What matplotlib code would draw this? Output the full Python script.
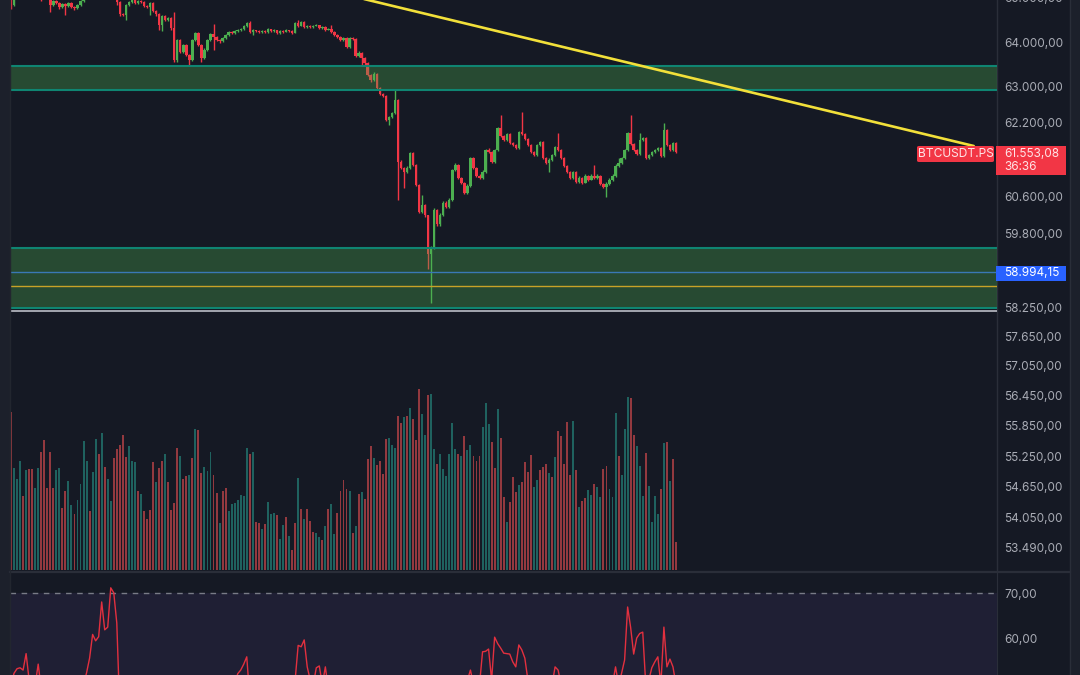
import matplotlib
matplotlib.use("Agg")
import matplotlib.pyplot as plt
from matplotlib.patches import Rectangle, FancyBboxPatch
from matplotlib.lines import Line2D
from matplotlib.ticker import FixedLocator, NullLocator, FuncFormatter

plt.rcParams['font.family'] = ['Inter', 'DejaVu Sans']

# ---------------- data ----------------
first_open = 65095
closes = [
    64864, 65211, 65327, 65443, 65397, 65559, 65489, 65327, 65443, 65211,
    65049, 65164, 65049, 64864, 64956, 64910, 64818, 64887, 64841, 64910,
    64818, 64795, 64864, 64956, 65072, 65164, 65257, 65397, 65327, 65489, 65443,
    65397, 65304, 65211, 65118, 64933, 64657, 64634, 64864,
    64933, 64979, 64910, 64956, 64933, 64841, 64818, 64910, 64726, 64657,
    64404, 64611, 64519, 64565, 64335, 63608, 64061, 63789, 63948, 63721,
    63608, 64061, 64221, 63948, 63654, 63834, 64061, 64198, 64130, 64061,
    64039, 64107, 64175, 64244, 64221, 64267, 64290, 64312, 64381, 64450,
    64244, 64290, 64267, 64244, 64267, 64244, 64312, 64267,
    64290, 64221, 64267, 64244, 64290, 64267, 64221, 64450, 64381, 64473, 64358,
    64381, 64358, 64381, 64404, 64335, 64358, 64290, 64312, 64244, 64175,
    64130, 64061, 64107, 63903, 64107, 64084, 63699, 63767, 63654, 63541,
    63270, 63158, 63293, 62979, 62845, 62800, 62268, 62335, 62423, 62711,
    61349, 61218, 61132, 61218, 61544, 61284, 60850, 60271, 60421, 60186,
    59361, 59509, 60314, 59994, 60207, 60464, 60378, 60528, 61175, 61284,
    61002, 60894, 60678, 60829, 61435, 61218, 61045, 61002, 61132, 61604,
    61566, 61349, 61604, 62092, 61916, 61828, 61960, 61762, 61719, 61653,
    62004, 61960, 61850, 61719, 61566, 61501, 61719, 61784, 61435, 61327,
    61392, 61501, 61675, 61604, 61435, 61262, 61132, 61002, 61132, 60915,
    61002, 60894, 61045, 60958, 61045, 61002,
    61045, 60872, 60807,
    60872, 60958, 61045, 61262, 61327, 61435, 61604, 61982, 61741, 61604,
    61522, 61828, 61872, 61435, 61501, 61566, 61604, 61653, 61479, 62048,
    61719, 61604, 61762, 61553.08,
]
highs = [
    65141, 65250, 65360, 65480, 65470, 65600, 65590, 65510, 65470, 65460,
    65230, 65190, 65190, 65070, 64990, 64980, 64940, 64920, 64910, 64935,
    64930, 64840, 64890, 64980, 65100, 65190, 65290, 65420, 65420, 65520, 65510,
    65460, 65410, 65320, 65230, 65130, 64950, 64680, 64890,
    64960, 65010, 64995, 64985, 64975, 64950, 64860, 64935, 64925, 64740,
    64670, 64640, 64630, 64590, 64580, 64703, 64090, 64080, 63975, 63960,
    63740, 64090, 64250, 64235, 63960, 63870, 64090, 64230, 64427, 64150,
    64080, 64130, 64200, 64265, 64260, 64290, 64310, 64335, 64400, 64475,
    64496, 64310, 64300, 64280, 64290, 64280, 64335, 64320,
    64310, 64300, 64290, 64280, 64310, 64300, 64280, 64475, 64519, 64495, 64485,
    64400, 64395, 64400, 64420, 64415, 64375, 64370, 64330, 64404, 64260,
    64190, 64145, 64130, 64120, 64130, 64125, 64100, 63800, 63780, 63670,
    63560, 63290, 63338, 63310, 62995, 62870, 62820, 62360, 62445, 62934,
    62730, 61380, 61240, 61250, 61570, 61560, 61300, 60870, 60635, 60440,
    60200, 59540, 60340, 60330, 60240, 60490, 60490, 60555, 61200, 61310,
    61300, 61020, 60910, 60860, 61460, 61450, 61240, 61070, 61160, 61630,
    61640, 61590, 61630, 62120, 62379, 61935, 61985, 61975, 61780, 61735,
    62030, 62445, 61980, 61870, 61740, 61590, 61745, 61810, 61800, 61450,
    61420, 61525, 61700, 61982, 61620, 61450, 61280, 61150, 61155, 61150,
    61030, 61020, 61070, 61060, 61070, 61284,
    61070, 61060, 60890,
    60900, 60985, 61070, 61290, 61435, 61460, 61630, 62010, 62379, 61760,
    61625, 61982, 61900, 61890, 61525, 61590, 61625, 61675, 61670, 62202,
    62070, 61740, 61785, 61780,
]
lows = [
    64772, 64840, 65180, 65300, 65350, 65370, 65450, 65290, 65300, 65180,
    64956, 65020, 65010, 64703, 64830, 64880, 64780, 64790, 64634, 64810,
    64790, 64749, 64770, 64840, 64930, 65050, 65140, 65240, 65300, 65310, 65420,
    65370, 65280, 65190, 65090, 64864, 64611, 64600, 64519,
    64840, 64910, 64880, 64890, 64905, 64815, 64790, 64634, 64700, 64620,
    64290, 64267, 64490, 64500, 64300, 63570, 63563, 63760, 63760, 63690,
    63495, 63590, 64030, 63920, 63563, 63630, 63810, 64040, 63834, 64030,
    64000, 64015, 64090, 64150, 64195, 64200, 64245, 64270, 64295, 64360,
    64220, 64175, 64245, 64220, 64230, 64225, 64230, 64245,
    64250, 64200, 64205, 64225, 64235, 64250, 64200, 64210, 64360, 64370, 64340,
    64340, 64340, 64345, 64370, 64315, 64320, 64270, 64280, 64225, 64150,
    64100, 64039, 64040, 63880, 63890, 64060, 63670, 63680, 63495, 63500,
    63240, 63120, 63130, 62950, 62810, 62770, 62240, 62158, 62310, 62400,
    60528, 61180, 60786, 61100, 61200, 61250, 60810, 60230, 60250, 60150,
    59046, 58339, 59480, 59960, 59970, 60180, 60350, 60350, 60500, 61150,
    60970, 60860, 60650, 60650, 60800, 61190, 61020, 60970, 60980, 61100,
    61540, 61320, 61330, 61580, 61890, 61800, 61800, 61740, 61690, 61630,
    61630, 61935, 61825, 61695, 61540, 61475, 61480, 61700, 61410, 61300,
    61132, 61370, 61480, 61580, 61410, 61240, 61100, 60975, 60980, 60890,
    60895, 60870, 60875, 60935, 60940, 60980,
    60980, 60850, 60780,
    60592, 60850, 60935, 61020, 61240, 61300, 61410, 61580, 61715, 61580,
    61500, 61500, 61800, 61410, 61415, 61480, 61545, 61585, 61455, 61460,
    61695, 61580, 61585, 61530,
]
volumes = [
    3166, 2040, 1820, 2180, 1480, 2000, 2020, 2020, 1640, 2040,
    2360, 2600, 1640, 2360, 1640, 2000, 2040, 1240, 1580, 1780,
    1300, 1120, 1400, 1720, 2580, 2180, 1180, 1960, 2620, 2320,
    2740, 2060, 1820, 1380, 2240, 2420, 2500, 2700, 2260, 2480,
    2180, 2160, 1580, 1520, 1180, 1020, 1200, 2160, 1760, 2040,
    2180, 2320, 1760, 1200, 1340, 2440, 2280, 1820, 1880, 1900,
    2240, 2820, 2800, 1940, 2060, 1980, 2360, 1900, 1540, 940,
    1580, 1640, 1180, 1320, 1340, 1400, 1500, 1480, 2440, 2320,
    2360, 960, 940, 820, 920, 1360, 1120, 1140, 1100, 620,
    900, 1060, 680, 400, 940, 1840, 1220, 1020, 1220, 980,
    760, 740, 660, 600, 880, 1220, 1320, 720, 1140, 1580,
    1800, 1620, 1580, 740, 880, 1520,
    1560, 1420, 2220, 2480, 2240, 2100, 2180, 1920, 2620, 2640,
    2500, 2440, 3080, 2940, 3060, 3080, 3240, 3020, 2600, 3620,
    3120, 2700, 3500, 3520, 2420, 2120, 2320, 2020, 1880, 2320,
    2940, 2420, 2320, 2280, 2680, 2400, 2500, 2280, 2180, 2280,
    2860, 3340, 2920, 2560, 2040, 3220, 2640, 1460, 960, 1360,
    1860, 1560, 1700, 1760, 2160, 1960, 2300, 1660, 1800, 2000,
    2060, 2120, 1940, 1860, 2260, 2780, 2680, 2120, 2960, 1900,
    2980, 2000, 1260, 1380, 1440, 1600, 1500, 1720, 1660, 1460,
    2020, 2080, 1620, 1460, 3140, 2280, 1900, 2820, 3460, 3440,
    2700, 2480, 2080, 1480, 2340, 1680, 960, 1480, 1120, 1620,
    2540, 2560, 1780, 2220, 560,
]
# 1 = buy volume (teal), 0 = sell volume (red)
volume_up = [
    0, 1, 1, 1, 0, 1, 0, 0, 1, 1,
    0, 0, 0, 0, 0, 1, 1, 0, 0, 1,
    1, 0, 1, 1, 1, 1, 0, 1, 1, 0,
    1, 0, 1, 1, 0, 0, 0, 0, 0, 1,
    1, 1, 0, 1, 0, 0, 0, 0, 1, 0,
    0, 1, 0, 0, 0, 0, 1, 0, 0, 1,
    0, 1, 0, 0, 1, 1, 1, 0, 0, 1,
    0, 0, 1, 1, 1, 1, 1, 1, 1, 0,
    1, 0, 0, 1, 0, 1, 1, 1, 0, 1,
    1, 0, 1, 0, 0, 1, 0, 1, 0, 0,
    0, 1, 1, 0, 1, 0, 1, 1, 0, 0,
    0, 0, 1, 0, 1, 0,
    1, 0, 0, 0, 1, 0, 0, 0, 0, 1,
    1, 1, 0, 0, 1, 0, 1, 0, 0, 0,
    1, 1, 0, 1, 1, 0, 1, 1, 1, 1,
    1, 1, 0, 1, 0, 1, 1, 0, 0, 0,
    1, 1, 1, 0, 0, 1, 0, 0, 1, 0,
    0, 0, 1, 0, 0, 0, 0, 1, 1, 0,
    0, 0, 1, 0, 1, 0, 0, 0, 0, 0,
    1, 0, 1, 0, 0, 1, 1, 0, 1, 1,
    0, 0, 1, 1, 1, 0, 1, 1, 1, 0,
    0, 1, 1, 1, 0, 1, 1, 1, 1, 0,
    1, 0, 1, 0, 0,
]
rsi_values = [
    50, 52.5, 53.5, 53.7, 53.2, 56.8, 51, 48, 50, 54.5, 49,
    47, 45, 44, 46, 43, 41, 44, 42, 45, 47, 44, 46, 48, 50,
    52.6, 55.8, 61.0, 59.6, 60.5, 68.1, 62.0, 62.6, 71.2, 70.1, 63.5, 44,
    40, 38, 36, 39, 42, 40, 43, 45, 44, 46, 48, 45, 43, 41, 44, 46, 47, 45, 43,
    46, 48, 47, 45, 44, 46, 49, 47, 45, 43, 41, 44, 46, 48, 47, 45, 47, 49, 50,
    52.4, 53.2, 54.5, 56.1, 47,
    45, 43, 46, 48, 47, 45, 44, 46, 47, 45, 46, 48, 47, 49,
    51, 58.6, 58.3, 59.8, 53.9, 51, 50, 53.7, 54.1, 50, 53.9, 49,
    46, 44, 42, 40, 41, 38, 35, 37, 34, 32, 35, 33, 31, 28, 30, 27, 25, 30, 28, 26,
    24, 22, 20, 23, 26, 28, 31, 29, 33, 36, 34, 38, 41, 39, 42, 44, 41, 43, 46, 44,
    47, 45, 48, 46, 49,
    51, 53.2, 50,
    48, 50,
    57.2, 57.3, 57.8, 51, 60.4, 59, 58.0, 56.9, 56.8, 56.7, 55.0, 53.9, 58.7, 57.6, 55.8, 51,
    49, 47, 45, 46, 44, 47, 48, 50,
    53.9, 53.2, 50,
    48, 46, 45, 43, 44, 42, 43, 41, 42, 44, 43, 45, 46, 47, 48, 49, 50,
    53.9, 50, 52.5, 55.4, 67.0, 62.5, 56.7, 60.2, 61.2, 61.5, 50,
    51, 53.7, 55.0, 56.1, 50, 62.6, 53.9, 55.6, 53.9, 50,
]
price_ticks = [64000, 63000, 62200, 60600, 59800, 58250, 57650, 57050,
               56450, 55850, 55250, 54650, 54050, 53490]
rsi_ticks = [70, 60]
zone_upper = (62934, 63461)
zone_lower = (58237, 59500)
last_price = 61553.08
countdown = "36:36"
symbol = "BTCUSDT.PS"
marked_price = 58994.15
gold_level = 58700
grey_level = 58179
trend_start = (100, 65285)
trend_end = (318.5, 61692)

assert len(closes) == len(highs) == len(lows) == len(volumes) == len(volume_up) == len(rsi_values)

# ---------------- style ----------------
W, H = 1080, 675
BG = '#151924'
STRIP = '#1c202b'
BORDER = '#2a2e39'
TXT = '#a9acb5'
GREEN = '#4caf50'
RED = '#f23645'
VOL_UP = '#1f625f'
VOL_DN = '#93393f'
FS = 8.5


def fmt(v):
    s = f"{v:,.2f}"
    return s.replace(',', 'X').replace('.', ',').replace('X', '.')


def fbox(x0, y0, x1, y1):
    return [x0 / W, 1 - y1 / H, (x1 - x0) / W, (y1 - y0) / H]


def fx(px):
    return px / W


def fy(py):
    return 1 - py / H


fig = plt.figure(figsize=(W / 100, H / 100), dpi=100, facecolor=BG)

# side strips
fig.add_artist(Rectangle((0, 0), fx(10), 1, transform=fig.transFigure,
                         facecolor=STRIP, edgecolor='none', zorder=0))
fig.add_artist(Rectangle((fx(1070), 0), fx(10), 1, transform=fig.transFigure,
                         facecolor=STRIP, edgecolor='none', zorder=0))

n = len(closes)
xs = list(range(n))
opens = [first_open] + closes[:-1]
XLIM = (-0.33, 326.2)

# volume axes (behind price)
ax_vol = fig.add_axes(fbox(10, 0, 997, 571), zorder=1)
ax_vol.set_facecolor(BG)
ax_vol.bar(xs, volumes, width=0.64,
           color=[VOL_UP if u else VOL_DN for u in volume_up], linewidth=0)
ax_vol.set_xlim(*XLIM)
ax_vol.set_ylim(-20, 11420)
ax_vol.axis('off')

# price axes
ax = fig.add_axes(fbox(10, 0, 997, 571), zorder=2)
ax.patch.set_alpha(0)
cols = [GREEN if c >= o else RED for o, c in zip(opens, closes)]
ax.vlines(xs, lows, highs, colors=cols, linewidth=1.0, zorder=2)
bottoms = [min(o, c) for o, c in zip(opens, closes)]
heights = [max(abs(c - o), 10) for o, c in zip(opens, closes)]
ax.bar(xs, heights, bottom=bottoms, width=0.8, color=cols, linewidth=0, zorder=2.1)
ax.set_yscale('log')
ax.set_ylim(53039, 64979)
ax.set_xlim(*XLIM)

# zones
for lo, hi in (zone_upper, zone_lower):
    ax.axhspan(lo, hi, color='#4caf50', alpha=0.33, linewidth=0, zorder=3)
    ax.axhline(lo, color='#0f8572', linewidth=1.5, zorder=3.5)
    ax.axhline(hi, color='#0f8572', linewidth=1.5, zorder=3.5)
ax.axhline(marked_price, color='#3a78b5', linewidth=1.0, zorder=3.6)
ax.axhline(gold_level, color='#c9a227', linewidth=1.0, zorder=3.6)
ax.axhline(grey_level, color='#aeb1ba', linewidth=1.3, zorder=3.6)

# trend line
ax.plot([trend_start[0], trend_end[0]], [trend_start[1], trend_end[1]],
        color='#f2e03a', linewidth=1.9, zorder=6, solid_capstyle='round')

ax.yaxis.set_major_locator(FixedLocator(price_ticks))
ax.yaxis.set_minor_locator(NullLocator())
ax.yaxis.set_major_formatter(FuncFormatter(lambda v, p: fmt(v)))
ax.yaxis.tick_right()
ax.tick_params(axis='y', which='both', length=0, pad=5.0, labelsize=FS, labelcolor=TXT)
ax.tick_params(axis='x', which='both', bottom=False, labelbottom=False)
for s in ax.spines.values():
    s.set_visible(False)
ax.spines['right'].set_visible(True)
ax.spines['right'].set_color(BORDER)
ax.spines['right'].set_linewidth(1.0)

# RSI axes
ax_r = fig.add_axes(fbox(10, 573, 997, 675), zorder=2)
ax_r.set_facecolor(BG)
ax_r.axhspan(30, 70, color='#7e57c2', alpha=0.1, linewidth=0)
ax_r.axhline(70, color='#787b86', linewidth=1.0, linestyle=(0, (4, 4)))
ax_r.plot(xs, rsi_values, color='#e3303f', linewidth=1.0)
ax_r.set_xlim(*XLIM)
ax_r.set_ylim(52.12, 74.44)
ax_r.yaxis.set_major_locator(FixedLocator(rsi_ticks))
ax_r.yaxis.set_minor_locator(NullLocator())
ax_r.yaxis.set_major_formatter(FuncFormatter(lambda v, p: fmt(v)))
ax_r.yaxis.tick_right()
ax_r.tick_params(axis='y', which='both', length=0, pad=5.0, labelsize=FS, labelcolor=TXT)
ax_r.tick_params(axis='x', which='both', bottom=False, labelbottom=False)
for s in ax_r.spines.values():
    s.set_visible(False)
ax_r.spines['right'].set_visible(True)
ax_r.spines['right'].set_color(BORDER)

# pane separator and right border
fig.add_artist(Line2D([fx(10), fx(1070)], [fy(572), fy(572)], transform=fig.transFigure,
                      color=BORDER, linewidth=1.6, zorder=5))
fig.add_artist(Line2D([fx(1070), fx(1070)], [0, 1], transform=fig.transFigure,
                      color=BORDER, linewidth=1.0, zorder=5))
fig.add_artist(Line2D([fx(10), fx(10)], [0, 1], transform=fig.transFigure,
                      color='#22262f', linewidth=1.0, zorder=5))

# partially visible top label (cut by the top edge, as in the source)
fig.text(fx(1004), fy(-1), fmt(65000), color=TXT, fontsize=FS, ha='left', va='center')

# symbol tag
fig.add_artist(FancyBboxPatch((fx(917), fy(162)), fx(77), (16 / H),
                              boxstyle='round,pad=0,rounding_size=0.002',
                              transform=fig.transFigure, facecolor=RED,
                              edgecolor='none', zorder=10))
fig.text(fx(955.5), fy(154.3), symbol, color='#ffe3e6', fontsize=8.6,
         ha='center', va='center', zorder=11)

# last price tag
fig.add_artist(Rectangle((fx(996), fy(175)), fx(70), 29 / H, transform=fig.transFigure,
                         facecolor=RED, edgecolor='none', zorder=10))
fig.text(fx(1004), fy(154), fmt(last_price), color='#ffe3e6', fontsize=FS,
         ha='left', va='center', zorder=11)
fig.text(fx(1004), fy(167), countdown, color='#ffe3e6', fontsize=FS,
         ha='left', va='center', zorder=11)

# marked price tag
fig.add_artist(Rectangle((fx(996), fy(281)), fx(70), 15 / H, transform=fig.transFigure,
                         facecolor='#2962ff', edgecolor='none', zorder=10))
fig.text(fx(1004), fy(273.5), fmt(marked_price), color='#ffffff', fontsize=FS,
         ha='left', va='center', zorder=11)

fig.savefig('out.png', dpi=100, facecolor=BG)
